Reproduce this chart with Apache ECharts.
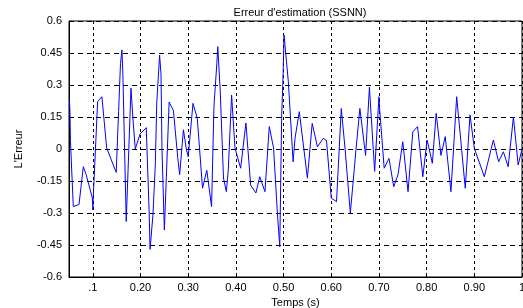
<!DOCTYPE html>
<html>
<head>
<meta charset="utf-8">
<script src="https://cdn.jsdelivr.net/npm/echarts@6/dist/echarts.min.js"></script>
<style>
html, body { margin: 0; padding: 0; background: #fff; }
#chart { width: 523px; height: 308px; }
</style>
</head>
<body>
<div id="chart"></div>
<script>
// temps (s) et erreur
var temps = [0.051, 0.052, 0.053, 0.059, 0.071, 0.080, 0.086, 0.099, 0.100, 0.101,
  0.110, 0.119, 0.129, 0.149, 0.154, 0.158, 0.161, 0.163, 0.170, 0.180,
  0.184, 0.189, 0.199, 0.212, 0.218, 0.220, 0.226, 0.231, 0.234, 0.240,
  0.243, 0.245, 0.250, 0.260, 0.269, 0.278, 0.282, 0.290, 0.296, 0.300,
  0.310, 0.319, 0.330, 0.339, 0.349, 0.354, 0.360, 0.362, 0.367, 0.374,
  0.380, 0.384, 0.391, 0.398, 0.410, 0.421, 0.431, 0.442, 0.450, 0.461,
  0.470, 0.479, 0.487, 0.492, 0.496, 0.499, 0.501, 0.510, 0.520, 0.524,
  0.533, 0.537, 0.550, 0.560, 0.571, 0.583, 0.590, 0.600, 0.611, 0.621,
  0.629, 0.640, 0.652, 0.660, 0.672, 0.680, 0.691, 0.700, 0.701, 0.711,
  0.721, 0.731, 0.740, 0.750, 0.761, 0.771, 0.781, 0.792, 0.801, 0.812,
  0.820, 0.830, 0.839, 0.851, 0.863, 0.881, 0.891, 0.900, 0.921, 0.940,
  0.951, 0.961, 0.971, 0.982, 0.992, 1.000];
var erreur = [0.23, 0.17, 0.04, -0.27, -0.26, -0.083, -0.12, -0.23, -0.286, -0.22,
  0.222, 0.245, 0.005, -0.11, 0.175, 0.40, 0.464, 0.35, -0.34, 0.285,
  0.145, 0.0, 0.07, 0.10, -0.29, -0.47, -0.31, -0.075, 0.215, 0.44,
  0.35, 0.0, -0.38, 0.22, 0.18, -0.04, -0.12, 0.09, 0.0, -0.036,
  0.214, 0.144, -0.184, -0.10, -0.27, 0.2, 0.40, 0.48, 0.28, -0.136,
  -0.20, -0.10, 0.253, 0.005, -0.09, 0.122, -0.17, -0.206, -0.13, -0.20,
  0.105, 0.005, -0.30, -0.458, 0.15, 0.35, 0.534, 0.315, -0.06, 0.05,
  0.175, 0.17, -0.137, 0.12, 0.01, 0.05, 0.04, -0.23, -0.247, 0.19,
  0.0, -0.30, 0.0, 0.19, -0.03, 0.29, -0.105, 0.245, 0.2, -0.09,
  -0.044, -0.177, -0.12, 0.034, -0.20, 0.08, 0.105, -0.13, 0.042, -0.067,
  0.167, -0.03, 0.058, -0.20, 0.245, -0.184, 0.16, 0.003, -0.13, 0.042,
  -0.06, -0.013, -0.083, 0.15, -0.075, 0.0];
var xTicks = [0.1, 0.2, 0.3, 0.4, 0.5, 0.6, 0.7, 0.8, 0.9, 1.0];

var chart = echarts.init(document.getElementById('chart'));
var font = 'Liberation Sans, Arial, sans-serif';

chart.setOption({
  animation: false,
  title: {
    text: "Erreur d'estimation (SSNN)",
    left: 295,
    textAlign: 'center',
    top: 2,
    textStyle: { fontSize: 11, fontWeight: 'normal', color: '#000', fontFamily: font }
  },
  grid: {
    left: 69, right: 1, top: 21, bottom: 31,
    outerBoundsMode: 'none',
    containLabel: false,
    show: true, borderColor: '#000', borderWidth: 1
  },
  xAxis: {
    type: 'value',
    min: 0.05, max: 1,
    name: 'Temps (s)',
    nameLocation: 'middle',
    nameGap: 13,
    nameTextStyle: { fontSize: 11, color: '#000', fontFamily: font },
    axisLine: { onZero: false, lineStyle: { color: '#000' } },
    axisTick: { inside: true, length: 4, customValues: xTicks, lineStyle: { color: '#000' } },
    axisLabel: {
      customValues: xTicks,
      margin: 5,
      fontSize: 11, color: '#000', fontFamily: font,
      formatter: function (v) {
        if (Math.abs(v - 0.1) < 1e-9) return '.1';
        if (Math.abs(v - 1) < 1e-9) return '1';
        return v.toFixed(2);
      }
    },
    splitLine: { show: true, lineStyle: { color: '#000', type: [3, 3], width: 1 } }
  },
  yAxis: {
    type: 'value',
    min: -0.6, max: 0.6, interval: 0.15,
    name: "L'Erreur",
    nameLocation: 'middle',
    nameGap: 45,
    nameTextStyle: { fontSize: 11, color: '#000', fontFamily: font },
    axisLine: { onZero: false, lineStyle: { color: '#000' } },
    axisTick: { inside: true, length: 4, lineStyle: { color: '#000' } },
    axisLabel: {
      margin: 7, fontSize: 11, color: '#000', fontFamily: font,
      formatter: function (v) { return String(Math.round(v * 100) / 100); }
    },
    splitLine: { show: true, lineStyle: { color: '#000', type: [5, 4], width: 1 } }
  },
  series: [{
    type: 'line',
    data: temps.map(function (t, i) { return [t, erreur[i]]; }),
    showSymbol: false,
    lineStyle: { color: '#0000ff', width: 1 },
    itemStyle: { color: '#0000ff' }
  }]
});
</script>
</body>
</html>
